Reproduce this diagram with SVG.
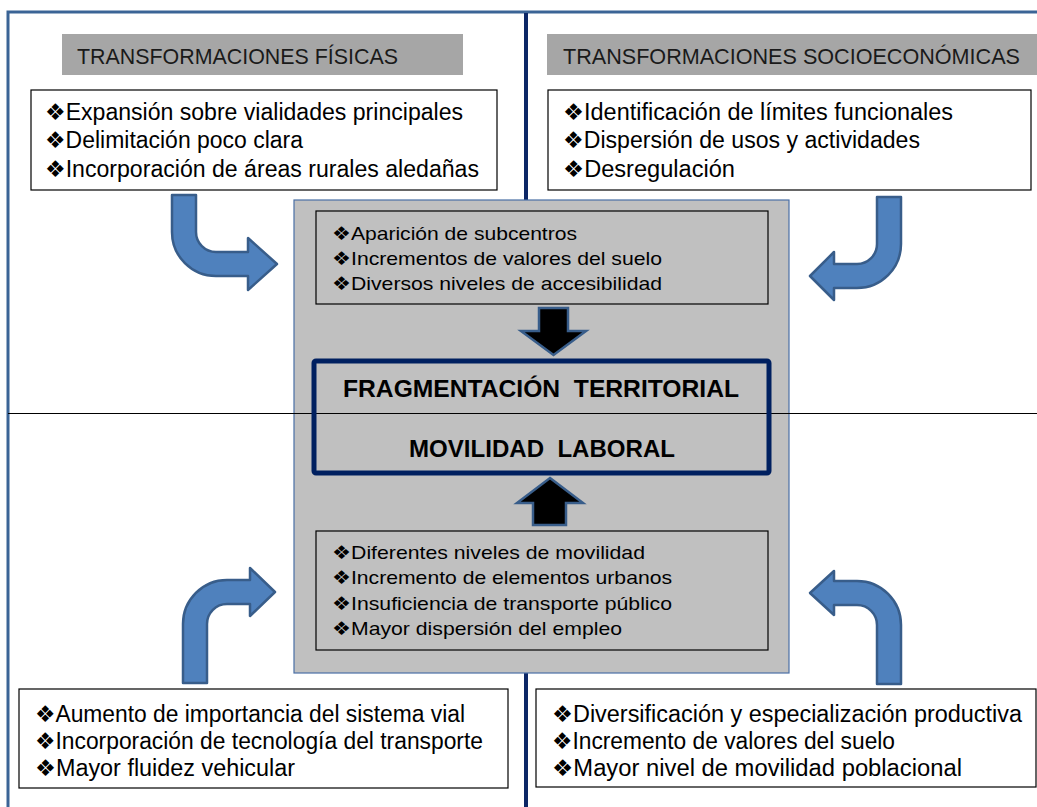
<svg xmlns="http://www.w3.org/2000/svg" width="1037" height="807" viewBox="0 0 1037 807">
<defs>
<style>
.frame{stroke:#3b6496;stroke-width:3;fill:none}
.hdr{fill:#a6a6a6}
.box{fill:#ffffff;stroke:#000000;stroke-width:1.2}
.ibox{fill:none;stroke:#000000;stroke-width:1.2}
.t{font-family:"Liberation Sans",Arial,"DejaVu Sans",sans-serif;fill:#000000}
.h{font-size:22px;fill:#1a1a1a}
.b{font-size:23px}
.s{font-size:19px}
.m{font-size:23px;font-weight:bold}
.bent{fill:#4f81bd;stroke:#385d8a;stroke-width:2.5;stroke-linejoin:round}
.blk{fill:#000000;stroke:#385d8a;stroke-width:2.5}
</style>
</defs>
<rect width="1037" height="807" fill="#ffffff"/>
<!-- frame -->
<path class="frame" d="M8,807 L8,12 L1037,12"/>
<line x1="526" y1="13" x2="526" y2="807" stroke="#0d2766" stroke-width="4"/>
<!-- center panel -->
<g id="center-panel">
<rect x="294" y="200" width="495" height="473" fill="#c0c0c0" stroke="#4a6fa5" stroke-width="1.2"/>
</g>
<line x1="8" y1="413.5" x2="1037" y2="413.5" stroke="#000000" stroke-width="1"/>
<!-- headers -->
<g id="header-fisicas">
<rect class="hdr" x="62" y="34" width="401" height="41"/>
<text class="t h" x="77" y="64" textLength="321" lengthAdjust="spacingAndGlyphs">TRANSFORMACIONES FÍSICAS</text>
</g>
<g id="header-socio">
<rect class="hdr" x="547" y="34" width="490" height="41"/>
<text class="t h" x="563" y="64" textLength="457" lengthAdjust="spacingAndGlyphs">TRANSFORMACIONES SOCIOECONÓMICAS</text>
</g>
<!-- top boxes -->
<g id="box-fisicas">
<rect class="box" x="31" y="90" width="466" height="100"/>
<text class="t b" x="45" y="119.5" textLength="418" lengthAdjust="spacingAndGlyphs">❖Expansión sobre vialidades principales</text>
<text class="t b" x="45" y="148" textLength="258" lengthAdjust="spacingAndGlyphs">❖Delimitación poco clara</text>
<text class="t b" x="45" y="176.5" textLength="434" lengthAdjust="spacingAndGlyphs">❖Incorporación de áreas rurales aledañas</text>
</g>
<g id="box-socio">
<rect class="box" x="548" y="90" width="483" height="100"/>
<text class="t b" x="563" y="119.5" textLength="390" lengthAdjust="spacingAndGlyphs">❖Identificación de límites funcionales</text>
<text class="t b" x="563" y="148" textLength="357" lengthAdjust="spacingAndGlyphs">❖Dispersión de usos y actividades</text>
<text class="t b" x="563" y="176.5" textLength="172" lengthAdjust="spacingAndGlyphs">❖Desregulación</text>
</g>
<!-- inner top box -->
<g id="box-subcentros">
<rect class="ibox" x="316" y="211" width="452" height="93"/>
<text class="t s" x="332" y="239.5" textLength="245" lengthAdjust="spacingAndGlyphs">❖Aparición de subcentros</text>
<text class="t s" x="332" y="264.5" textLength="330" lengthAdjust="spacingAndGlyphs">❖Incrementos de valores del suelo</text>
<text class="t s" x="332" y="289.5" textLength="330" lengthAdjust="spacingAndGlyphs">❖Diversos niveles de accesibilidad</text>
</g>
<!-- main box -->
<g id="box-main">
<rect x="314" y="361" width="455" height="112" rx="2" fill="none" stroke="#002060" stroke-width="5"/>
<text class="t m" x="541" y="396.5" text-anchor="middle" textLength="396" lengthAdjust="spacingAndGlyphs">FRAGMENTACIÓN&#160; TERRITORIAL</text>
<text class="t m" x="542" y="456.5" text-anchor="middle" textLength="266" lengthAdjust="spacingAndGlyphs">MOVILIDAD&#160; LABORAL</text>
</g>
<!-- inner bottom box -->
<g id="box-movilidad">
<rect class="ibox" x="316" y="531" width="452" height="119"/>
<text class="t s" x="332" y="558.5" textLength="313" lengthAdjust="spacingAndGlyphs">❖Diferentes niveles de movilidad</text>
<text class="t s" x="332" y="584" textLength="340" lengthAdjust="spacingAndGlyphs">❖Incremento de elementos urbanos</text>
<text class="t s" x="332" y="609.5" textLength="340" lengthAdjust="spacingAndGlyphs">❖Insuficiencia de transporte público</text>
<text class="t s" x="332" y="635" textLength="290" lengthAdjust="spacingAndGlyphs">❖Mayor dispersión del empleo</text>
</g>
<!-- bottom boxes -->
<g id="box-vial">
<rect class="box" x="19" y="689" width="489" height="99"/>
<text class="t b" x="35" y="722" textLength="430" lengthAdjust="spacingAndGlyphs">❖Aumento de importancia del sistema vial</text>
<text class="t b" x="35" y="749" textLength="448" lengthAdjust="spacingAndGlyphs">❖Incorporación de tecnología del transporte</text>
<text class="t b" x="35" y="776" textLength="260" lengthAdjust="spacingAndGlyphs">❖Mayor fluidez vehicular</text>
</g>
<g id="box-productiva">
<rect class="box" x="536" y="689" width="500" height="98"/>
<text class="t b" x="552" y="722" textLength="470" lengthAdjust="spacingAndGlyphs">❖Diversificación y especialización productiva</text>
<text class="t b" x="552" y="749" textLength="343" lengthAdjust="spacingAndGlyphs">❖Incremento de valores del suelo</text>
<text class="t b" x="552" y="776" textLength="410" lengthAdjust="spacingAndGlyphs">❖Mayor nivel de movilidad poblacional</text>
</g>
<!-- connectors -->
<g id="connectors">
<path class="bent" d="M172,195 L172,232 A44,44 0 0 0 216,276 L248,276 L248,290 L277,264 L248,238 L248,252 L216,252 A20,20 0 0 1 196,232 L196,195 Z"/>
<path class="bent" d="M901,197 L901,244 A44,44 0 0 1 857,288 L834,288 L834,300 L810,276 L834,252 L834,264 L857,264 A20,20 0 0 0 877,244 L877,197 Z"/>
<path class="bent" d="M183,683 L183,624 A44,44 0 0 1 227,580 L250,580 L250,568 L275,592 L250,616 L250,604 L227,604 A20,20 0 0 0 207,624 L207,683 Z"/>
<path class="bent" d="M901,684 L901,625 A44,44 0 0 0 857,581 L834,581 L834,571 L810,593 L834,615 L834,605 L857,605 A20,20 0 0 1 877,625 L877,684 Z"/>
<path class="blk" d="M539,308 L568,308 L568,331 L586,331 L553.5,355 L521,331 L539,331 Z"/>
<path class="blk" d="M550,478 L583,503 L566,503 L566,525 L533,525 L533,503 L517,503 Z"/>
</g>
</svg>
